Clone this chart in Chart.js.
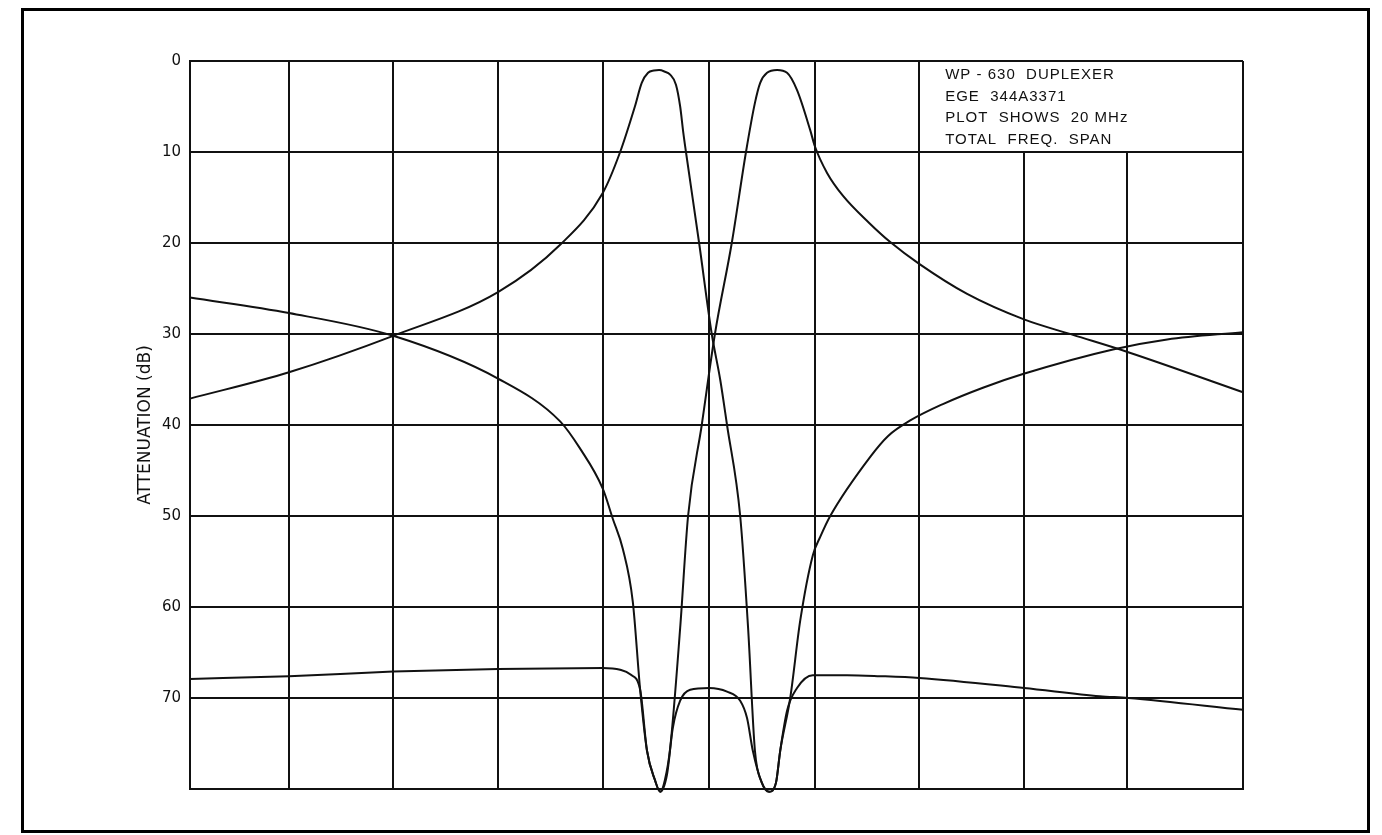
<!DOCTYPE html>
<html>
<head>
<meta charset="utf-8">
<script src="https://cdn.jsdelivr.net/npm/chart.js@4/dist/chart.umd.min.js"></script>
<style>
  body { margin: 0; background: #fff; }
  #frame { position: absolute; left: 21px; top: 8px; width: 1343px; height: 819px; border: 3px solid #000; }
  canvas { position: absolute; left: 0; top: 0; }
</style>
</head>
<body>
<div id="frame"></div>
<canvas id="duplexer" width="1382" height="835"></canvas>
<script>
// frequency offset across the 20 MHz span (MHz), attenuation in dB
var gridMHz = [0, 1.88, 3.86, 5.85, 7.84, 9.86, 11.87, 13.85, 15.84, 17.8, 20];
var dbTicks = [0, 10, 20, 30, 40, 50, 60, 70, 80];

// low channel: passband near 8.9 MHz, notch at 11 MHz
var lowFreq = [0, 1.88, 3.86, 5.85, 7.03, 7.84, 8.17, 8.45, 8.58, 8.7, 8.81, 8.91, 9.01, 9.12, 9.23, 9.31, 9.37, 9.42, 9.67, 9.91, 10.07, 10.2, 10.45, 10.6, 10.73, 10.86, 11.0, 11.13, 11.21, 11.4, 11.59, 11.83, 11.97, 12.16, 12.92, 13.26, 13.68, 14.3, 15.06, 15.82, 17.53, 18.56, 20];
var lowAtten = [37.1, 34.2, 30.2, 25.4, 20.2, 14.5, 10.0, 5.0, 2.4, 1.3, 1.05, 1.0, 1.15, 1.5, 2.6, 5.0, 7.9, 10.0, 20.0, 30.0, 35.0, 40.0, 50.0, 62.3, 75.8, 79.3, 80.3, 79.3, 75.8, 70.0, 61.5, 54.3, 52.3, 50.0, 43.5, 41.2, 39.5, 37.7, 35.9, 34.4, 31.7, 30.6, 29.8];

// high channel: notch at 8.9 MHz, passband near 11.1 MHz
var highFreq = [0, 1.88, 3.86, 5.85, 7.03, 7.41, 7.84, 8.03, 8.22, 8.41, 8.55, 8.68, 8.83, 8.93, 9.02, 9.12, 9.31, 9.46, 9.72, 9.97, 10.29, 10.56, 10.73, 10.83, 10.96, 11.15, 11.34, 11.53, 11.78, 11.87, 12.1, 12.4, 12.9, 13.3, 13.85, 14.76, 15.84, 16.77, 17.82, 20];
var highAtten = [26.0, 27.7, 30.2, 34.9, 39.6, 42.6, 47.0, 50.3, 53.6, 59.4, 69.1, 75.8, 79.0, 80.3, 79.0, 75.5, 62.3, 50.0, 40.0, 30.0, 20.0, 10.0, 4.6, 2.4, 1.3, 1.0, 1.3, 3.2, 7.6, 9.4, 12.3, 14.8, 17.8, 19.9, 22.3, 25.6, 28.4, 30.1, 32.0, 36.4];

// isolation between the channels
var isoFreq = [0, 1.88, 3.86, 5.85, 7.84, 8.17, 8.36, 8.55, 8.68, 8.83, 8.93, 9.06, 9.17, 9.31, 9.5, 9.86, 10.2, 10.45, 10.58, 10.69, 10.86, 11.0, 11.13, 11.21, 11.34, 11.53, 11.83, 12.48, 13.1, 13.85, 15.84, 17.28, 17.82, 20];
var isoAtten = [67.9, 67.6, 67.1, 66.8, 66.7, 66.9, 67.4, 69.1, 75.8, 79.0, 80.3, 78.4, 73.3, 70.3, 69.1, 68.9, 69.3, 70.3, 72.2, 75.8, 79.3, 80.3, 79.3, 75.8, 71.4, 68.9, 67.5, 67.5, 67.6, 67.8, 68.9, 69.8, 70.0, 71.3];

var noteLines = ['WP - 630  DUPLEXER', 'EGE  344A3371', 'PLOT  SHOWS  20 MHz', 'TOTAL  FREQ.  SPAN'];

function pairs(xs, ys) {
    return xs.map(function (x, i) { return { x: x, y: ys[i] }; });
}

function curve(xs, ys) {
    return {
        data: pairs(xs, ys),
        borderColor: '#111',
        borderWidth: 2,
        pointRadius: 0,
        cubicInterpolationMode: 'monotone',
        clip: 6
    };
}

// blank corner box with the plot notes, top right
var notesBox = {
    id: 'notesBox',
    beforeDatasetsDraw: function (chart) {
        var x = chart.scales.x, y = chart.scales.y, ctx = chart.ctx;
        var area = chart.chartArea;
        var left = x.getPixelForValue(gridMHz[7]);
        var bottom = y.getPixelForValue(10);
        ctx.save();
        ctx.fillStyle = '#fff';
        ctx.fillRect(left + 1, area.top + 1, area.right - left - 2, bottom - area.top - 2);
        ctx.fillStyle = '#111';
        ctx.font = '15px "Liberation Sans", Arial, sans-serif';
        ctx.letterSpacing = '1px';
        ctx.textBaseline = 'alphabetic';
        noteLines.forEach(function (t, i) {
            ctx.fillText(t, left + 26, area.top + 18 + i * 21.7);
        });
        ctx.restore();
    }
};

var ctx = document.getElementById('duplexer').getContext('2d');
var chart = new Chart(ctx, {
    type: 'line',
    data: {
        datasets: [curve(lowFreq, lowAtten), curve(highFreq, highAtten), curve(isoFreq, isoAtten)]
    },
    options: {
        responsive: false,
        animation: false,
        devicePixelRatio: 1,
        layout: { padding: { top: 61, right: 139, bottom: 0, left: 0 } },
        plugins: { legend: { display: false }, tooltip: { enabled: false } },
        scales: {
            x: {
                type: 'linear',
                min: 0,
                max: 20,
                afterBuildTicks: function (s) { s.ticks = gridMHz.map(function (v) { return { value: v }; }); },
                afterFit: function (s) { s.height = 46; },
                ticks: { display: false },
                grid: { color: '#111', lineWidth: 2, drawTicks: false },
                border: { color: '#111', width: 2 }
            },
            y: {
                reverse: true,
                min: 0,
                max: 80,
                afterBuildTicks: function (s) { s.ticks = dbTicks.map(function (v) { return { value: v }; }); },
                afterFit: function (s) { s.width = 190; },
                ticks: {
                    padding: 9,
                    color: '#111',
                    font: { family: '"DejaVu Sans", sans-serif', size: 15 },
                    callback: function (v) { return v === 80 ? '' : String(v); }
                },
                grid: { color: '#111', lineWidth: 2, drawTicks: false },
                border: { color: '#111', width: 2 },
                title: {
                    display: true,
                    text: 'ATTENUATION (dB)',
                    color: '#111',
                    font: { family: '"DejaVu Sans", sans-serif', size: 17 },
                    padding: { top: 135, bottom: 0 }
                }
            }
        }
    },
    plugins: [notesBox]
});
</script>
</body>
</html>
